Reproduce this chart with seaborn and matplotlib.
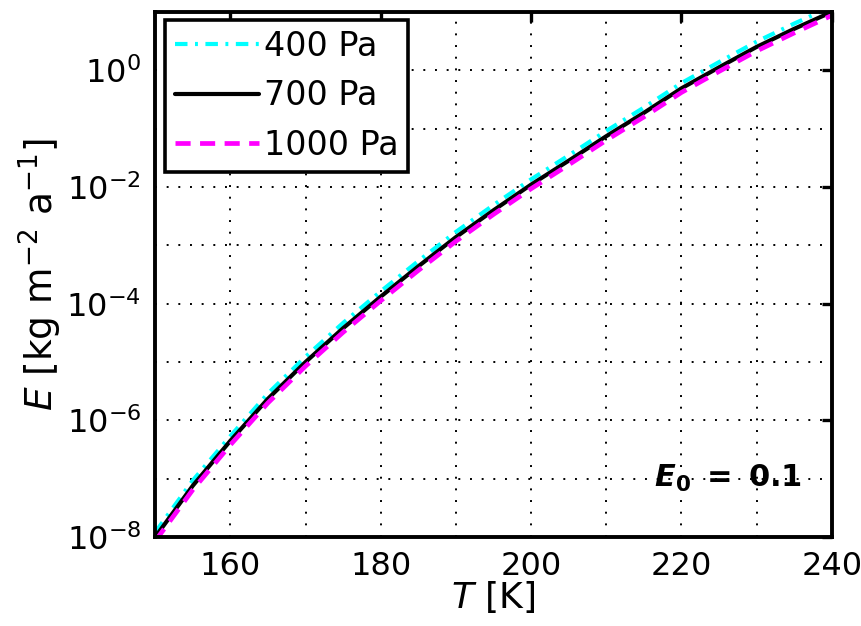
import numpy as np
import pandas as pd
import seaborn as sns
import matplotlib.pyplot as plt
from matplotlib.ticker import FixedLocator, LogFormatterSciNotation, NullFormatter

# temperature grid [K]
T = [150, 155, 160, 165, 170, 175, 180, 185, 190, 195,
     200, 205, 210, 215, 220, 225, 230, 235, 240]

# log10 of E, one list per pressure
logE_400 = [-7.92, -7.03, -6.27, -5.54, -4.91, -4.33, -3.79, -3.27, -2.77, -2.31,
            -1.87, -1.46, -1.04, -0.64, -0.22, 0.14, 0.49, 0.80, 1.09]
logE_700 = [-8.00, -7.12, -6.35, -5.63, -5.00, -4.42, -3.88, -3.36, -2.86, -2.40,
            -1.96, -1.55, -1.13, -0.73, -0.31, 0.05, 0.40, 0.71, 1.00]
logE_1000 = [-8.07, -7.19, -6.42, -5.70, -5.07, -4.49, -3.95, -3.43, -2.93, -2.47,
             -2.03, -1.62, -1.20, -0.80, -0.38, -0.02, 0.33, 0.64, 0.94]

labels = ["400 Pa", "700 Pa", "1000 Pa"]
colors = ["#00FFFF", "#000000", "#FF00FF"]

sns.set_theme(style="white")
plt.rcParams['font.family'] = ['DejaVu Sans']
plt.rcParams['mathtext.fontset'] = 'dejavusans'
plt.rcParams['text.color'] = 'black'
plt.rcParams['axes.labelcolor'] = 'black'
plt.rcParams['xtick.color'] = 'black'
plt.rcParams['ytick.color'] = 'black'

df = pd.DataFrame({
    "T": T * 3,
    "E": [10 ** v for v in logE_400 + logE_700 + logE_1000],
    "p": [labels[0]] * len(T) + [labels[1]] * len(T) + [labels[2]] * len(T),
})

fig = plt.figure(figsize=(8.62, 6.26), dpi=100)
ax = fig.add_axes([0.180, 0.142, 0.785, 0.839])

styles = {
    "400 Pa": dict(linestyle=(0, (3.0, 1.8, 0.7, 1.8)), linewidth=3.0),
    "700 Pa": dict(linestyle="-", linewidth=3.0),
    "1000 Pa": dict(linestyle=(0, (3.2, 2.0)), linewidth=3.4),
}
for lab, col in zip(labels, colors):
    sub = df[df["p"] == lab]
    sns.lineplot(data=sub, x="T", y="E", ax=ax, color=col, label=lab, **styles[lab])

ax.set_yscale("log")
ax.set_xlim(150, 240)
ax.set_ylim(1e-8, 1e1)

ax.xaxis.set_major_locator(FixedLocator([160, 180, 200, 220, 240]))
ax.xaxis.set_minor_locator(FixedLocator([170, 190, 210, 230]))
ax.yaxis.set_major_locator(FixedLocator([1e-8, 1e-6, 1e-4, 1e-2, 1e0]))
ax.yaxis.set_minor_locator(FixedLocator([1e-7, 1e-5, 1e-3, 1e-1, 1e1]))
ax.yaxis.set_major_formatter(LogFormatterSciNotation())
ax.yaxis.set_minor_formatter(NullFormatter())

ax.grid(True, which="both", color="black", linestyle=(0, (1, 5)), linewidth=1.4)
ax.tick_params(which="major", direction="in", length=7, width=2.4,
               top=True, right=True, labelsize=23, pad=10)
ax.tick_params(which="minor", direction="in", length=0, top=True, right=True)
for s in ax.spines.values():
    s.set_linewidth(2.8)
    s.set_color("black")

ax.set_xlabel(r"$T$ [K]", fontsize=26, labelpad=-2)
ax.set_ylabel(r"$E$ [kg m$^{-2}$ a$^{-1}$]", fontsize=27, labelpad=2)

ax.text(0.846, 0.112, r"$\mathbfit{E}_{\mathbf{0}}\ \mathbf{=\ 0.1}$",
        transform=ax.transAxes, fontsize=22, ha="center", va="center", color="black")

leg = ax.legend(loc="upper left", bbox_to_anchor=(0.015, 0.985), borderaxespad=0,
                fontsize=24, frameon=True, fancybox=False, framealpha=1,
                handlelength=2.5, handletextpad=0.15, borderpad=0.3, labelspacing=0.5)
leg.get_frame().set_edgecolor("black")
leg.get_frame().set_linewidth(2.6)

fig.savefig("out.png", dpi=100)
